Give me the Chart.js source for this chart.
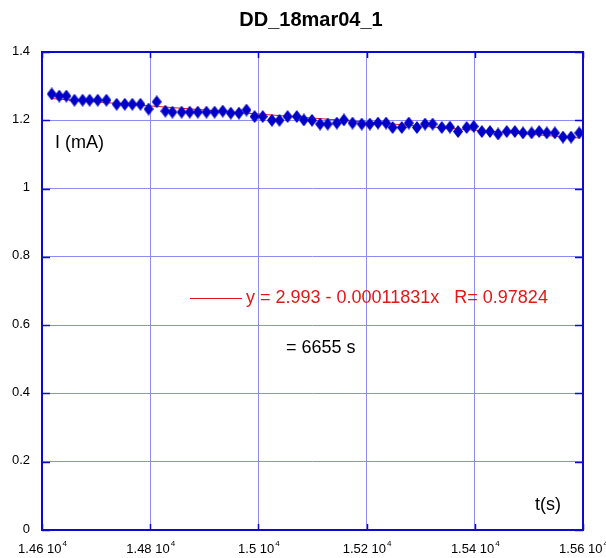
<!DOCTYPE html>
<html>
<head>
<meta charset="utf-8">
<script src="https://cdn.jsdelivr.net/npm/chart.js@4/dist/chart.umd.min.js"></script>
<style>
  html, body { margin: 0; padding: 0; background: #ffffff; }
  #wrap { width: 606px; height: 558px; }
</style>
</head>
<body>
<div id="wrap"><canvas id="c" width="606" height="558"></canvas></div>
<script>
// Discharge run DD_18mar04_1: current vs time with a linear fit
const chartTitle = 'DD_18mar04_1';

const timeS = [
  14618, 14632, 14645, 14660, 14675, 14688, 14703, 14719, 14738, 14753,
  14767, 14782, 14797, 14812, 14828, 14841, 14858, 14873, 14888, 14904,
  14919, 14934, 14949, 14964, 14978, 14993, 15008, 15025, 15039, 15054,
  15071, 15084, 15099, 15114, 15128, 15145, 15158, 15174, 15191, 15206,
  15221, 15236, 15248, 15265, 15278, 15293, 15308, 15322, 15339, 15354,
  15369, 15385, 15398, 15413, 15428, 15443, 15459, 15474, 15489, 15505,
  15519, 15533, 15548, 15563, 15578, 15593
];

const currentMA = [
  1.277, 1.271, 1.271, 1.259, 1.259, 1.259, 1.259, 1.259, 1.247, 1.247,
  1.247, 1.247, 1.233, 1.254, 1.227, 1.224, 1.224, 1.224, 1.224, 1.224,
  1.224, 1.227, 1.221, 1.221, 1.230, 1.211, 1.211, 1.200, 1.200, 1.211,
  1.211, 1.201, 1.200, 1.189, 1.189, 1.192, 1.201, 1.192, 1.189, 1.189,
  1.192, 1.192, 1.179, 1.179, 1.192, 1.179, 1.189, 1.189, 1.179, 1.180,
  1.167, 1.179, 1.182, 1.167, 1.167, 1.160, 1.167, 1.167, 1.163, 1.163,
  1.167, 1.163, 1.163, 1.151, 1.151, 1.163
];

const xTickValues = [14600, 14800, 15000, 15200, 15400, 15600];
const xTickMantissas = ['1.46', '1.48', '1.5', '1.52', '1.54', '1.56'];
const xTickExponent = '4';
const yTickValues = [0, 0.2, 0.4, 0.6, 0.8, 1, 1.2, 1.4];
const yTickLabels = ['0', '0.2', '0.4', '0.6', '0.8', '1', '1.2', '1.4'];

const fitIntercept = 2.993;
const fitSlope = -0.00011831;
const fitText = 'y = 2.993 - 0.00011831x   R= 0.97824';
const tauText = '= 6655 s';
const yAxisLabel = 'I (mA)';
const xAxisLabel = 't(s)';

const FRAME = '#0a0ad2';
const GRID = '#8c8cf2';
const MARKER = '#0000c8';
const FIT = '#e01818';
const FONT = '"Liberation Sans", Arial, Helvetica, sans-serif';

// Diamond marker, a little taller than wide
function makeDiamond(w, h, color) {
  const cv = document.createElement('canvas');
  cv.width = w; cv.height = h;
  const g = cv.getContext('2d');
  g.fillStyle = color;
  g.beginPath();
  g.moveTo(w / 2, 0);
  g.lineTo(w, h / 2);
  g.lineTo(w / 2, h);
  g.lineTo(0, h / 2);
  g.closePath();
  g.fill();
  return cv;
}
const diamond = makeDiamond(10, 13, MARKER);

const dataPoints = timeS.map((t, i) => ({ x: t, y: currentMA[i] }));
const tFirst = timeS[0], tLast = timeS[timeS.length - 1];
const fitPoints = [
  { x: tFirst, y: fitIntercept + fitSlope * tFirst },
  { x: tLast, y: fitIntercept + fitSlope * tLast }
];

const decorations = {
  id: 'decorations',
  afterDatasetsDraw(chart) {
    const ctx = chart.ctx;
    const a = chart.chartArea;
    const xs = chart.scales.x, ys = chart.scales.y;
    ctx.save();

    // frame
    ctx.strokeStyle = FRAME;
    ctx.lineWidth = 2;
    ctx.strokeRect(a.left, a.top, a.right - a.left, a.bottom - a.top);

    // inward tick marks
    ctx.lineWidth = 1.5;
    ctx.beginPath();
    yTickValues.forEach(v => {
      const y = Math.round(ys.getPixelForValue(v)) + 0.5;
      ctx.moveTo(a.left, y); ctx.lineTo(a.left + 8, y);
      ctx.moveTo(a.right, y); ctx.lineTo(a.right - 8, y);
    });
    xTickValues.forEach(v => {
      const x = Math.round(xs.getPixelForValue(v)) + 0.5;
      ctx.moveTo(x, a.bottom); ctx.lineTo(x, a.bottom - 6);
      ctx.moveTo(x, a.top); ctx.lineTo(x, a.top + 6);
    });
    ctx.stroke();

    // y tick labels
    ctx.fillStyle = '#000';
    ctx.font = '13px ' + FONT;
    ctx.textAlign = 'right';
    ctx.textBaseline = 'middle';
    yTickValues.forEach((v, i) => {
      ctx.fillText(yTickLabels[i], 30, ys.getPixelForValue(v) - 1);
    });

    // x tick labels with power-of-ten exponent
    ctx.textAlign = 'left';
    ctx.textBaseline = 'alphabetic';
    xTickValues.forEach((v, i) => {
      const main = xTickMantissas[i] + ' 10';
      ctx.font = '13px ' + FONT;
      const wMain = ctx.measureText(main).width;
      ctx.font = '8px ' + FONT;
      const wExp = ctx.measureText(xTickExponent).width;
      const x0 = xs.getPixelForValue(v) - (wMain + wExp) / 2;
      ctx.font = '13px ' + FONT;
      ctx.fillText(main, x0, 553);
      ctx.font = '8px ' + FONT;
      ctx.fillText(xTickExponent, x0 + wMain + 1, 546);
    });

    // title
    ctx.font = 'bold 20px ' + FONT;
    ctx.textAlign = 'center';
    ctx.textBaseline = 'middle';
    ctx.fillText(chartTitle, 311, 20);

    // axis names inside the plot
    ctx.font = '18px ' + FONT;
    ctx.textAlign = 'left';
    ctx.fillText(yAxisLabel, 55, 143);
    ctx.fillText(xAxisLabel, 535, 505);

    // fit legend
    ctx.strokeStyle = FIT;
    ctx.lineWidth = 1;
    ctx.beginPath();
    ctx.moveTo(190, 298.5); ctx.lineTo(242, 298.5);
    ctx.stroke();
    ctx.fillStyle = FIT;
    ctx.fillText(fitText, 246, 298);
    ctx.fillStyle = '#000';
    ctx.fillText(tauText, 286, 348);

    ctx.restore();
  }
};

new Chart(document.getElementById('c'), {
  type: 'scatter',
  data: {
    datasets: [
      {
        label: 'fit',
        data: fitPoints,
        showLine: true,
        borderColor: FIT,
        borderWidth: 1,
        pointRadius: 0,
        order: 2
      },
      {
        label: 'I',
        data: dataPoints,
        pointStyle: diamond,
        pointRadius: 6,
        backgroundColor: MARKER,
        borderColor: MARKER,
        order: 1
      }
    ]
  },
  options: {
    responsive: false,
    devicePixelRatio: 1,
    animation: false,
    layout: { padding: { left: 42, top: 52, right: 23, bottom: 28 } },
    plugins: { legend: { display: false }, tooltip: { enabled: false }, title: { display: false } },
    scales: {
      x: {
        type: 'linear', min: 14600, max: 15600,
        ticks: { display: false, stepSize: 200 },
        grid: { color: GRID, lineWidth: 1, drawTicks: false },
        border: { display: false }
      },
      y: {
        type: 'linear', min: 0, max: 1.4,
        ticks: { display: false, stepSize: 0.2 },
        grid: { color: GRID, lineWidth: 1, drawTicks: false },
        border: { display: false }
      }
    }
  },
  plugins: [decorations]
});
</script>
</body>
</html>
